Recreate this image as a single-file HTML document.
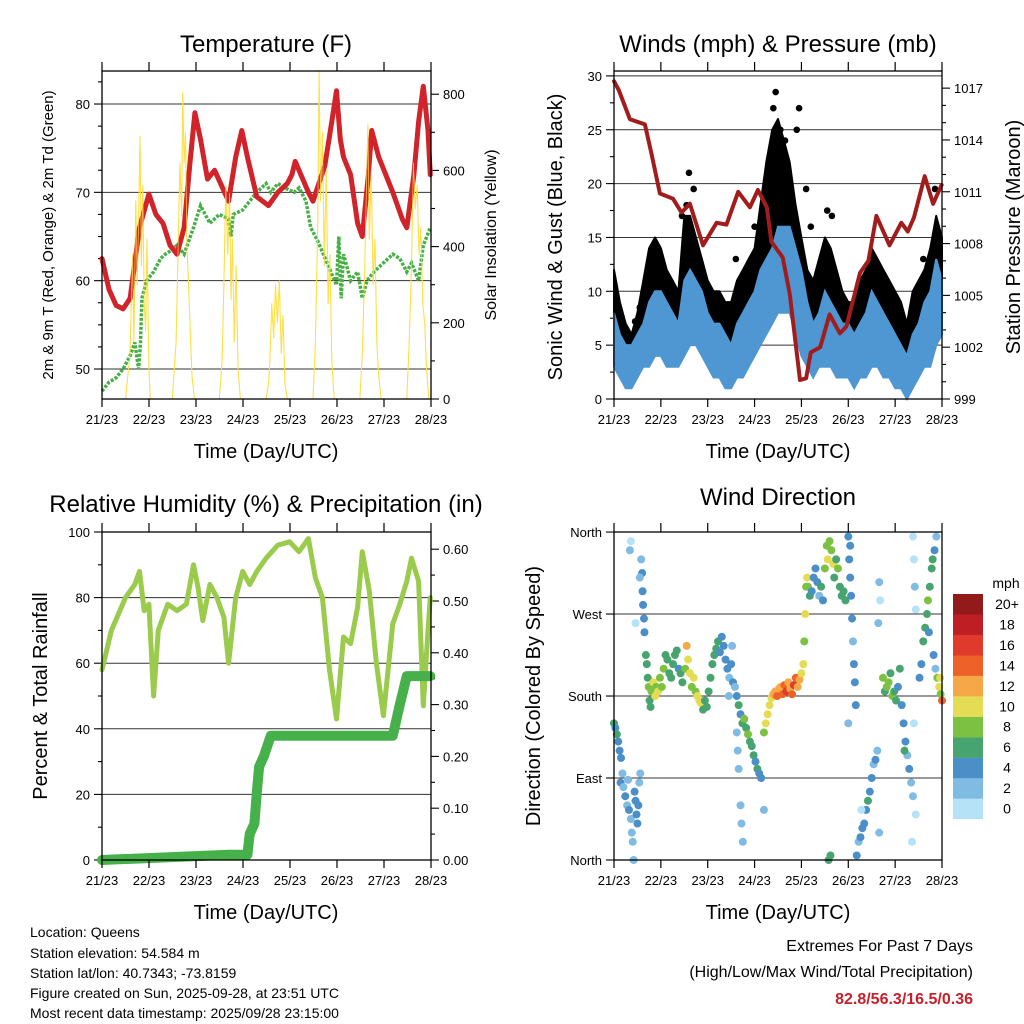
<!DOCTYPE html>
<html><head><meta charset="utf-8">
<style>
html,body{margin:0;padding:0;background:#fff;}
svg{display:block;font-family:"Liberation Sans",Arial,sans-serif;}
</style></head>
<body>
<svg id="chart" width="1024" height="1024" viewBox="0 0 1024 1024" xmlns="http://www.w3.org/2000/svg">
<rect x="0" y="0" width="1024" height="1024" fill="#fff"/>
<text x="266" y="52" font-size="24" text-anchor="middle">Temperature (F)</text>
<text x="778" y="52" font-size="24" text-anchor="middle">Winds (mph) &amp; Pressure (mb)</text>
<text x="266" y="512" font-size="24" text-anchor="middle">Relative Humidity (%) &amp; Precipitation (in)</text>
<text x="778" y="505" font-size="24" text-anchor="middle">Wind Direction</text>
<text x="266" y="458" font-size="20" text-anchor="middle">Time (Day/UTC)</text>
<text x="778" y="458" font-size="20" text-anchor="middle">Time (Day/UTC)</text>
<text x="266" y="919" font-size="20" text-anchor="middle">Time (Day/UTC)</text>
<text x="778" y="919" font-size="20" text-anchor="middle">Time (Day/UTC)</text>
<text transform="translate(53,235) rotate(-90)" font-size="15" text-anchor="middle">2m &amp; 9m T (Red, Orange) &amp; 2m Td (Green)</text>
<text transform="translate(496,235) rotate(-90)" font-size="16" text-anchor="middle">Solar Insolation (Yellow)</text>
<text transform="translate(562,237) rotate(-90)" font-size="20" text-anchor="middle">Sonic Wind &amp; Gust (Blue, Black)</text>
<text transform="translate(1020,237) rotate(-90)" font-size="20" text-anchor="middle">Station Pressure (Maroon)</text>
<text transform="translate(47,696) rotate(-90)" font-size="20" text-anchor="middle">Percent &amp; Total Rainfall</text>
<text transform="translate(540,696) rotate(-90)" font-size="20" text-anchor="middle">Direction (Colored By Speed)</text>
<g font-size="14">
<text x="30" y="937">Location: Queens</text>
<text x="30" y="958">Station elevation: 54.584 m</text>
<text x="30" y="978">Station lat/lon: 40.7343; -73.8159</text>
<text x="30" y="998">Figure created on Sun, 2025-09-28, at 23:51 UTC</text>
<text x="30" y="1018">Most recent data timestamp: 2025/09/28 23:15:00</text>
</g>
<text x="973" y="951" font-size="16" text-anchor="end">Extremes For Past 7 Days</text>
<text x="973" y="977" font-size="16" text-anchor="end">(High/Low/Max Wind/Total Precipitation)</text>
<text x="973" y="1004" font-size="16" font-weight="bold" fill="#c8202a" text-anchor="end">82.8/56.3/16.5/0.36</text>
</svg>
<script>
// ---------- data ----------
const dayLabels = ["21/23","22/23","23/23","24/23","25/23","26/23","27/23","28/23"];
const tempTicks = [50,60,70,80];
const insTicks = [0,200,400,600,800];
const windTicks = [0,5,10,15,20,25,30];
const presTicks = [999,1002,1005,1008,1011,1014,1017];
const rhTicks = [0,20,40,60,80,100];
const precipTicks = ["0.00","0.10","0.20","0.30","0.40","0.50","0.60"];
const dirLabels = ["North","East","South","West","North"];
const speedLabels = ["0","2","4","6","8","10","12","14","16","18","20+"];

const tempT = [0,0.15,0.3,0.45,0.6,0.8,1.0,1.15,1.3,1.45,1.6,1.75,1.87,1.98,2.1,2.25,2.4,2.7,2.85,2.98,3.1,3.3,3.55,3.75,3.95,4.05,4.12,4.4,4.5,4.75,4.9,5.0,5.08,5.15,5.3,5.45,5.55,5.68,5.75,5.9,6.2,6.4,6.5,6.65,6.75,6.85,6.95,7.0];
const tempV = [62.5,59,57.2,56.8,58,66,69.8,67.5,66.5,64,63,66,73,79,76,71.5,72.5,69,74,77,74,69.5,68.5,70,71,72,73.5,70,69,73,78,81.5,76,74,72,66.5,65,72,77,74,70,67,66,72,78,82,77,72];
const dewT = [0,0.15,0.3,0.45,0.6,0.7,0.78,0.82,0.85,0.95,1.1,1.25,1.35,1.5,1.6,1.75,1.95,2.1,2.3,2.5,2.7,2.75,2.8,3.0,3.15,3.3,3.5,3.6,3.75,3.9,4.1,4.2,4.35,4.45,4.6,4.8,5.0,5.05,5.1,5.15,5.3,5.45,5.55,5.65,5.8,6.0,6.2,6.35,6.5,6.6,6.75,6.85,7.0];
const dewV = [47.5,48.5,49,50,51.5,53,50,53,58,60,61,62.5,63,63.5,64,63,66,68.5,66.5,67.5,67,65,67.5,68,69,70,71,70,71,70.5,70,70.5,69,66,64.5,62,59.5,65,58,63,60,61,58,60,61,62,63,62.5,61,62,60,64,66];
const insT = [0,0.5,0.6,0.65,0.68,0.72,0.75,0.78,0.81,0.84,0.87,0.9,0.93,0.96,1.0,1.03,1.5,1.58,1.62,1.66,1.7,1.72,1.75,1.78,1.81,1.84,1.88,1.92,1.97,2.5,2.56,2.6,2.64,2.68,2.72,2.75,2.78,2.82,2.86,2.9,2.95,3.5,3.55,3.58,3.62,3.66,3.7,3.74,3.78,3.82,3.86,3.9,3.95,4.5,4.55,4.6,4.63,4.66,4.7,4.74,4.78,4.82,4.86,4.9,4.95,5.5,5.55,5.6,5.64,5.67,5.7,5.74,5.78,5.82,5.86,5.9,5.95,6.5,6.55,6.6,6.64,6.68,6.72,6.76,6.8,6.84,6.88,6.92,6.97,7.0];
const insV = [0,0,120,380,150,520,300,470,690,350,560,250,180,420,80,0,0,150,380,620,480,805,620,700,400,320,180,60,0,0,100,300,560,380,540,260,420,150,350,80,0,0,40,100,250,160,300,200,310,120,220,40,0,0,150,450,860,520,700,350,600,250,380,100,0,0,120,330,560,720,420,600,300,420,150,60,0,0,150,350,620,500,560,380,450,250,200,80,0,0];

const windT = [0,0.125,0.25,0.375,0.5,0.625,0.75,0.875,1,1.125,1.25,1.375,1.5,1.625,1.75,1.875,2,2.125,2.25,2.375,2.5,2.625,2.75,2.875,3,3.125,3.25,3.375,3.5,3.625,3.75,3.875,4,4.125,4.25,4.375,4.5,4.625,4.75,4.875,5,5.125,5.25,5.375,5.5,5.625,5.75,5.875,6,6.125,6.25,6.375,6.5,6.625,6.75,6.875,7];
const windHi = [8,6,5,5,6,7,9,10,10,9,8,7,11,12,11,10,8,7,7,6,5,7,8,9,10,12,13,14,16,16,16,14,12,9,7,8,10,9,8,7,7,6,7,8,10,9,8,7,6,5,4,6,7,9,10,13,11];
const windLo = [3,2,1,1,2,3,3,4,4,3,3,3,4,5,5,4,3,2,2,1,1,2,2,3,4,5,6,7,8,8,8,6,4,3,2,3,3,3,2,2,2,1,2,2,3,3,2,2,1,1,0,1,2,3,3,5,6];
const gustHi = [12,9,7,6,8,11,14,15,14,12,11,10,17,17,15,13,11,10,10,9,9,11,12,13,14,18,22,25,26,24,22,18,15,12,11,13,15,14,12,10,9,9,11,12,14,13,12,11,10,9,7,10,11,12,14,17,15];
const gustDotT = [1.6,1.7,1.55,3.45,3.4,3.95,3.55,3.9,3.65,3.5,4.1,4.55,4.65,6.85,0.55,0.45,2.6,3.0,6.6,1.45,4.2];
const gustDotV = [21,19.5,18,28.5,27,27,25,25,24,23,19.5,17.5,17,19.5,8.5,7.2,13,16,13,17,16];
const presT = [0,0.1,0.34,0.66,0.8,0.98,1.26,1.44,1.62,1.9,2.19,2.4,2.65,2.9,3.07,3.26,3.36,3.6,3.75,3.97,4.1,4.2,4.4,4.6,4.82,4.96,5.25,5.43,5.6,5.88,6.13,6.27,6.4,6.63,6.81,6.99];
const presV = [1017.4,1016.9,1015.2,1014.9,1013.2,1010.9,1010.6,1009.8,1010.3,1007.9,1009.2,1009.1,1011,1010.1,1011.1,1010.1,1008.1,1007.2,1005.1,1000.1,1000.2,1001.7,1002,1003.9,1002.8,1003.2,1006.3,1007,1009.6,1007.9,1009.2,1008.7,1009.5,1011.9,1010.3,1011.4];

const rhT = [0,0.2,0.5,0.7,0.8,0.9,1.0,1.1,1.2,1.4,1.6,1.8,1.95,2.05,2.15,2.3,2.45,2.6,2.7,2.85,3.0,3.15,3.3,3.5,3.75,4.0,4.2,4.4,4.55,4.7,4.85,5.0,5.15,5.3,5.45,5.55,5.7,5.85,6.0,6.2,6.35,6.5,6.6,6.75,6.85,6.95,7.0];
const rhV = [58,70,80,84,88,76,78,50,70,78,76,78,90,83,73,84,80,74,60,80,88,84,88,92,96,97,94,98,86,80,58,43,68,66,77,94,82,60,44,72,78,85,92,85,47,70,80];
const prT = [0,2.7,3.1,3.15,3.25,3.3,3.35,3.45,3.6,6.2,6.35,6.5,7.0];
const prV = [0,0.01,0.01,0.05,0.07,0.13,0.18,0.2,0.24,0.24,0.3,0.355,0.355];

const dirT = [0.00,0.03,0.06,0.09,0.12,0.15,0.18,0.14,0.2,0.24,0.28,0.3,0.32,0.36,0.38,0.4,0.42,0.36,0.34,0.44,0.46,0.48,0.5,0.52,0.54,0.56,0.46,0.58,0.6,0.61,0.62,0.64,0.65,0.55,0.68,0.7,0.72,0.74,0.76,0.78,0.8,0.84,0.88,0.9,0.94,0.98,1.02,1.06,1.1,1.14,1.18,1.22,1.26,1.3,1.34,1.38,1.42,1.46,1.52,1.55,1.58,1.62,1.66,1.7,1.74,1.78,1.82,1.86,1.9,1.94,1.98,2.02,2.06,2.1,2.14,2.18,2.22,2.26,2.3,2.34,2.38,2.42,2.46,2.5,2.54,2.58,2.52,2.45,2.62,2.66,2.7,2.74,2.78,2.82,2.86,2.9,2.94,2.98,3.02,3.06,3.1,3.14,2.62,2.64,2.66,2.7,2.72,2.75,3.2,3.2,3.24,3.28,3.32,3.36,3.4,3.44,3.48,3.52,3.56,3.6,3.64,3.68,3.72,3.76,3.8,3.84,3.88,3.92,3.96,4.0,4.04,4.06,4.08,4.1,4.12,4.14,4.18,4.22,4.26,4.3,4.34,4.38,4.42,4.46,4.5,4.54,4.56,4.6,4.64,4.68,4.7,4.74,4.78,4.82,4.86,4.9,4.94,4.58,4.62,5.0,5.02,5.04,5.06,5.08,5.1,5.12,5.14,5.16,5.04,5.0,5.18,5.22,5.26,5.3,5.34,5.38,5.42,5.46,5.5,5.54,5.58,5.62,5.28,5.66,5.66,5.68,5.64,5.74,5.78,5.82,5.86,5.9,5.94,5.98,6.02,6.06,6.1,6.14,6.18,6.22,6.26,6.3,6.34,6.2,6.38,6.4,6.38,6.4,6.42,6.44,6.36,6.44,6.52,6.56,6.6,6.64,6.68,6.7,6.74,6.78,6.8,6.82,6.86,6.72,6.88,6.84,6.9,6.94,6.97,7.0,6.96];
const dirV = [150,145,138,130,120,112,95,85,80,70,60,88,55,45,30,20,0,350,340,75,65,50,40,60,85,95,260,330,315,295,280,265,250,310,225,215,200,190,175,168,185,195,180,190,185,200,190,210,225,220,205,200,215,225,230,210,205,195,210,235,220,205,190,200,185,180,175,172,165,175,168,185,200,215,225,232,240,228,245,235,220,210,200,215,195,190,235,180,180,170,160,150,155,145,138,130,125,115,108,100,95,90,140,120,100,60,40,20,55,140,150,160,170,178,182,185,180,188,190,182,192,185,195,188,182,192,200,190,198,205,215,240,270,300,310,300,290,295,310,320,305,290,300,285,320,345,330,350,340,325,310,330,320,300,290,295,285,0,5,355,330,310,290,265,240,215,195,170,345,150,5,20,25,35,40,55,65,75,90,105,110,120,55,30,305,285,260,200,185,190,195,205,180,185,175,190,210,170,150,130,115,100,85,120,70,150,355,330,300,275,20,50,200,215,240,255,270,285,300,320,330,225,210,250,355,340,200,190,182,175,200];
const dirS = [6,5,6,5,4,4,3,4,3,4,3,2,4,3,2,2,3,1,2,4,4,5,4,4,3,2,1,3,4,4,4,4,4,2,6,7,6,8,7,6,9,10,10,9,10,8,9,8,6,6,7,6,7,6,6,5,6,6,8,12,11,10,9,10,9,11,10,10,7,6,6,6,7,6,6,6,7,5,4,4,4,4,3,4,4,3,3,2,4,6,5,7,8,7,8,7,6,6,5,6,5,4,2,2,2,3,2,3,3,9,10,10,11,10,12,13,14,12,13,15,14,16,12,13,15,16,14,13,12,11,10,8,10,9,10,8,6,4,4,5,4,3,6,4,8,9,10,8,9,10,7,6,9,7,6,7,6,7,6,4,4,4,4,4,3,4,4,4,4,2,4,3,4,4,5,4,6,4,4,3,4,3,1,2,2,1,3,8,6,9,8,6,8,7,6,5,6,4,4,4,3,4,3,6,2,1,1,1,2,1,1,1,4,4,6,6,7,8,6,7,7,4,3,4,3,4,8,10,9,14,10];

// ---------- helpers ----------
const NS = 'http://www.w3.org/2000/svg';
const svg = document.getElementById('chart');
function mk(tag, attrs, parent){
  const e = document.createElementNS(NS, tag);
  for (const k in attrs) e.setAttribute(k, attrs[k]);
  (parent || svg).appendChild(e);
  return e;
}
function pts(ts, vs, fx, fy){ return ts.map((t,i)=>fx(t).toFixed(1)+','+fy(vs[i]).toFixed(1)).join(' '); }

const xT = d => 102 + d*46.9;
const yT = v => 369 - (v-50)*8.833;
const yS = v => 399 - v*0.381;
const xW = d => 614 + d*46.86;
const yW = v => 399 - v*10.77;
const yP = p => 399 - (p-999)*17.27;
const xB = d => 102 + d*46.9;
const yR = v => 860 - v*3.28;
const yPr = v => 860 - v*518;
const xD = d => 614 + d*46.86;
const yD = deg => 860 - deg*0.911;
const speedColors = ["#b5e2f7","#80bbe4","#4a8fc8","#48a46e","#7dc142","#e4dc55","#f5a845","#ee6229","#df3a2b","#bf1e24","#931a1b"];

function frame(x0,y0,x1,y1,name){
  for (let i=0;i<8;i++){
    const x = x0 + i*(x1-x0)/7;
    const t1 = mk('line',{x1:x,y1:y1,x2:x,y2:y1+8,stroke:'#000','stroke-width':1.2});
    
    
    const t2 = mk('line',{x1:x,y1:y0,x2:x,y2:y0-9,stroke:'#000','stroke-width':1.2});
    
    
    const lb = mk('text',{x:x,y:y1+25,'font-size':13,'text-anchor':'middle'});
    lb.textContent = dayLabels[i];
    
    
  }
}
function box(x0,y0,x1,y1,name){
  const r = mk('rect',{x:x0,y:y0,width:x1-x0,height:y1-y0,fill:'none',stroke:'#000','stroke-width':1.3});
  
  
}
function hgrid(x0,x1,y,name){
  const g = mk('line',{x1:x0,y1:y,x2:x1,y2:y,stroke:'#333','stroke-width':1});
  
  
}
function ytick(x,y,len,label,anchor,name,fs){
  const t = mk('line',{x1:x,y1:y,x2:x+len,y2:y,stroke:'#000','stroke-width':1.1});
  
  
  if (label!==null){
    const lb = mk('text',{x:x+len+(len<0?-4:4),y:y+5,'font-size':fs||13,'text-anchor':anchor});
    lb.textContent = label;
    
    
  }
}

// ---------- Panel 1 ----------
tempTicks.forEach(v=>{ hgrid(102,431,yT(v),'temp'); ytick(102,yT(v),-8,String(v),'end','temp-y'); });
[52.5,55,57.5,62.5,65,67.5,72.5,75,77.5,82.5].forEach(v=>ytick(102,yT(v),-4,null,'end','temp-y-minor'));
insTicks.forEach(v=>{ ytick(431,yS(v),8,String(v),'start','insolation-y'); });
[100,300,500,700].forEach(v=>ytick(431,yS(v),4,null,'start','insolation-y-minor'));
const ins = mk('polyline',{points:pts(insT,insV,xT,yS),fill:'none',stroke:'#ffd92f','stroke-width':1,'stroke-linejoin':'round'});


const dew = mk('polyline',{points:pts(dewT,dewV,xT,yT),fill:'none',stroke:'#47b044','stroke-width':3.5,'stroke-dasharray':'3 1.5'});


const temp = mk('polyline',{points:pts(tempT,tempV,xT,yT),fill:'none',stroke:'#d0232a','stroke-width':5,'stroke-linejoin':'round','stroke-linecap':'round'});


const ins2 = mk('polyline',{points:pts(insT,insV,xT,yS),fill:'none',stroke:'#ffe14d','stroke-width':0.8,opacity:0.8});


box(102,71,431,399,'temp');
frame(102,71,431,399,'temp');

// ---------- Panel 2 ----------
windTicks.forEach(v=>{ hgrid(614,942,yW(v),'wind'); ytick(614,yW(v),-8,String(v),'end','wind-y'); });
[2.5,7.5,12.5,17.5,22.5,27.5].forEach(v=>ytick(614,yW(v),-4,null,'end','wind-y-minor'));
hgrid(614,942,71,'wind-top');
presTicks.forEach(v=>{ ytick(942,yP(v),8,String(v),'start','pressure-y'); });
[1000,1001,1003,1004,1006,1007,1009,1010,1012,1013,1015,1016].forEach(v=>ytick(942,yP(v),4,null,'start','pressure-y-minor'));
const gustPoly = windT.map((t,i)=>xW(t).toFixed(1)+','+yW(gustHi[i]).toFixed(1)).concat(windT.slice().reverse().map((t,j)=>{const i=windT.length-1-j;return xW(t).toFixed(1)+','+yW(windLo[i]+1.5).toFixed(1);})).join(' ');
const gust = mk('polygon',{points:gustPoly,fill:'#000',stroke:'#000','stroke-width':2,'stroke-linejoin':'round'});


const bluePoly = windT.map((t,i)=>xW(t).toFixed(1)+','+yW(windHi[i]).toFixed(1)).concat(windT.slice().reverse().map((t,j)=>{const i=windT.length-1-j;return xW(t).toFixed(1)+','+yW(windLo[i]).toFixed(1);})).join(' ');
const blue = mk('polygon',{points:bluePoly,fill:'#4f97d2',stroke:'#4f97d2','stroke-width':2});


gustDotT.forEach((t,i)=>{
  const c = mk('circle',{cx:xW(t),cy:yW(gustDotV[i]),r:3.3,fill:'#000'});
  
  
});
const pres = mk('polyline',{points:pts(presT,presV,xW,yP),fill:'none',stroke:'#a11d1d','stroke-width':4,'stroke-linejoin':'round','stroke-linecap':'round'});


box(614,71,942,399,'wind');
frame(614,71,942,399,'wind');

// ---------- Panel 3 ----------
rhTicks.forEach(v=>{ hgrid(102,431,yR(v),'humidity'); ytick(102,yR(v),-8,String(v),'end','humidity-y'); });
[10,30,50,70,90].forEach(v=>ytick(102,yR(v),-4,null,'end','humidity-y-minor'));
precipTicks.forEach(s=>{ ytick(431,yPr(parseFloat(s)),8,s,'start','precip-y'); });
[0.05,0.15,0.25,0.35,0.45,0.55].forEach(v=>ytick(431,yPr(v),4,null,'start','precip-y-minor'));
const rh = mk('polyline',{points:pts(rhT,rhV,xB,yR),fill:'none',stroke:'#9acb4c','stroke-width':5,'stroke-linejoin':'round','stroke-linecap':'round'});


const pr = mk('polyline',{points:pts(prT,prV,xB,yPr),fill:'none',stroke:'#46b04a','stroke-width':10,'stroke-linejoin':'round','stroke-linecap':'round'});


box(102,532,431,860,'humidity');
frame(102,532,431,860,'humidity');

// ---------- Panel 4 ----------
dirLabels.forEach((s,i)=>{ const y = yD(i*90); hgrid(614,942,y,'direction'); ytick(614,y,-8,s,'end','direction-y'); });
dirT.forEach((t,i)=>{
  const bin = Math.min(10, Math.floor(dirS[i]/2));
  const c = mk('circle',{cx:xD(t),cy:yD(dirV[i]),r:4,fill:speedColors[bin]});
  
  
});
box(614,532,942,860,'direction');
frame(614,532,942,860,'direction');
const mph = mk('text',{x:1006,y:588,'font-size':14,'text-anchor':'middle'});
mph.textContent = 'mph';


speedLabels.forEach((s,i)=>{
  const k = speedLabels.length-1-i;
  const y = 594 + k*20.45;
  const r = mk('rect',{x:953,y:y,width:30,height:20.6,fill:speedColors[i]});
  
  
  const t = mk('text',{x:1007,y:y+15,'font-size':14,'text-anchor':'middle'});
  t.textContent = s;
  
  
});
</script>
</body></html>
